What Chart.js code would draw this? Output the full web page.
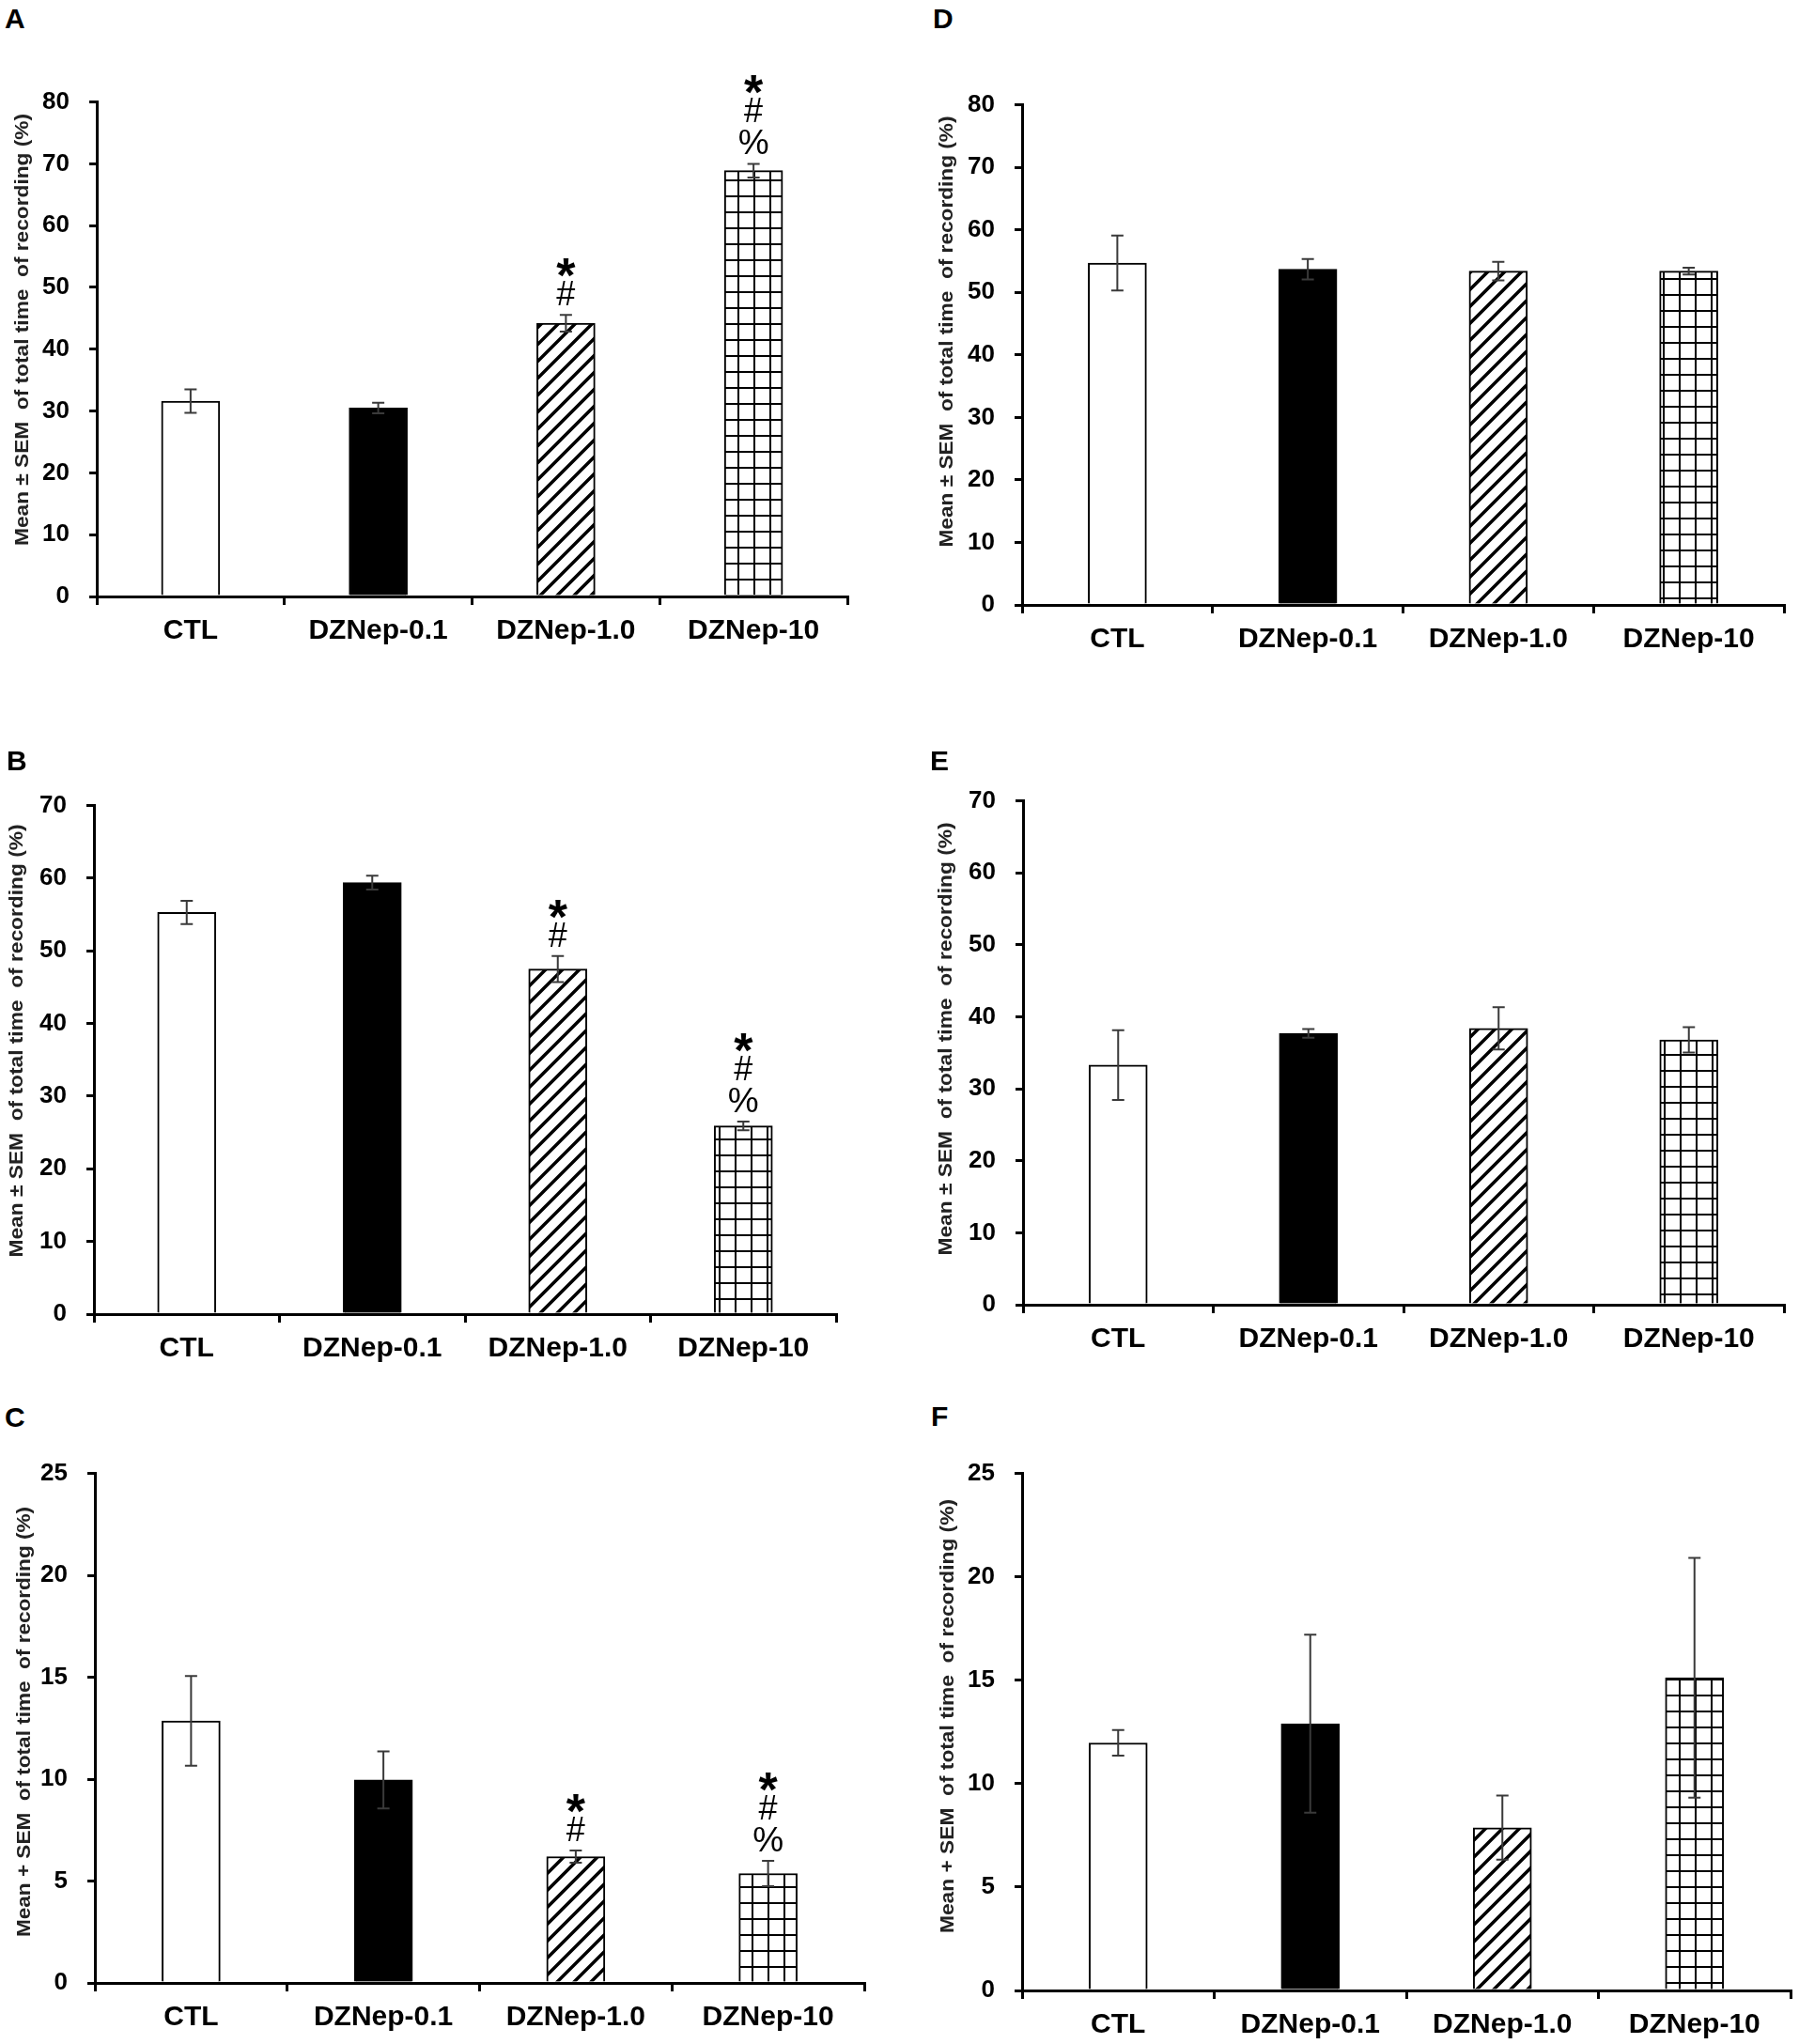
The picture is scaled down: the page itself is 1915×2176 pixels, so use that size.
<!DOCTYPE html>
<html>
<head>
<meta charset="utf-8">
<script src="https://cdn.jsdelivr.net/npm/chart.js@4.4.1/dist/chart.umd.min.js"></script>
<style>
  body { margin: 0; background: #fff; width: 1915px; height: 2176px; position: relative; overflow: hidden; }
  canvas { position: absolute; }
  .letter { position: absolute; font: bold 30px "Liberation Sans", Arial, sans-serif; line-height: 1; color: #000; }
</style>
</head>
<body>
<script>
// categories shared by all six panels
const groups = ['CTL', 'DZNep-0.1', 'DZNep-1.0', 'DZNep-10'];

// A
const meanA = [31.6, 30.5, 44.2, 68.9];
const semA = [1.9, 0.85, 1.35, 1.1];
const marksA = ['', '', '*#', '*#%'];
const ticksA = [0, 10, 20, 30, 40, 50, 60, 70, 80];

// B
const meanB = [55.3, 59.4, 47.5, 25.9];
const semB = [1.6, 0.95, 1.8, 0.6];
const marksB = ['', '', '*#', '*#%'];
const ticksB = [0, 10, 20, 30, 40, 50, 60, 70];

// C
const meanC = [12.86, 9.96, 6.2, 5.37];
const semC = [2.2, 1.4, 0.3, 0.62];
const marksC = ['', '', '*#', '*#%'];
const ticksC = [0, 5, 10, 15, 20, 25];

// D
const meanD = [54.7, 53.7, 53.4, 53.4];
const semD = [4.4, 1.65, 1.5, 0.55];
const marksD = ['', '', '', ''];
const ticksD = [0, 10, 20, 30, 40, 50, 60, 70, 80];

// E
const meanE = [33.3, 37.7, 38.4, 36.8];
const semE = [4.85, 0.6, 2.95, 1.75];
const marksE = ['', '', '', ''];
const ticksE = [0, 10, 20, 30, 40, 50, 60, 70];

// F
const meanF = [11.97, 12.9, 7.87, 15.12];
const semF = [0.62, 4.3, 1.55, 5.8];
const marksF = ['', '', '', ''];
const ticksF = [0, 5, 10, 15, 20, 25];

const titlePM = 'Mean \u00b1 SEM  of total time  of recording (%)';
const titlePlus = 'Mean + SEM  of total time  of recording (%)';

// where each plot sits on the page (axis corner, top of y axis, end of x axis)
const panels = [
  { id: 'A', mean: meanA, sem: semA, marks: marksA, ticks: ticksA, title: titlePM,
    axisX: 103, top: 102, bottom: 635, right: 902, titleX: 24, titleY: 351, titleLen: 460, lx: 5, ly: 5 },
  { id: 'B', mean: meanB, sem: semB, marks: marksB, ticks: ticksB, title: titlePM,
    axisX: 100, top: 851, bottom: 1399, right: 890, titleX: 18, titleY: 1108, titleLen: 461, lx: 7, ly: 795 },
  { id: 'C', mean: meanC, sem: semC, marks: marksC, ticks: ticksC, title: titlePlus,
    axisX: 101, top: 1562, bottom: 2111, right: 920, titleX: 26, titleY: 1833, titleLen: 458, lx: 5, ly: 1494 },
  { id: 'D', mean: meanD, sem: semD, marks: marksD, ticks: ticksD, title: titlePM,
    axisX: 1088, top: 105, bottom: 644, right: 1899, titleX: 1008, titleY: 353, titleLen: 459, lx: 993, ly: 5 },
  { id: 'E', mean: meanE, sem: semE, marks: marksE, ticks: ticksE, title: titlePM,
    axisX: 1089, top: 846, bottom: 1389, right: 1899, titleX: 1007, titleY: 1106, titleLen: 461, lx: 990, ly: 795 },
  { id: 'F', mean: meanF, sem: semF, marks: marksF, ticks: ticksF, title: titlePlus,
    axisX: 1088, top: 1562, bottom: 2119, right: 1906, titleX: 1009, titleY: 1827, titleLen: 462, lx: 991, ly: 1493 }
];

const FONT = '"Liberation Sans", Arial, sans-serif';

// hatch fills
function stripePattern() {
  const s = 18;
  const c = document.createElement('canvas');
  c.width = s; c.height = s;
  const g = c.getContext('2d');
  g.fillStyle = '#fff';
  g.fillRect(0, 0, s, s);
  g.strokeStyle = '#000';
  g.lineWidth = 3.5;
  g.beginPath();
  g.moveTo(-2, s + 2); g.lineTo(s + 2, -2);
  g.moveTo(-3, 3); g.lineTo(3, -3);
  g.moveTo(s - 3, s + 3); g.lineTo(s + 3, s - 3);
  g.stroke();
  return g.createPattern(c, 'repeat');
}

function gridPattern() {
  const s = 17;
  const c = document.createElement('canvas');
  c.width = s; c.height = s;
  const g = c.getContext('2d');
  g.fillStyle = '#fff';
  g.fillRect(0, 0, s, s);
  g.fillStyle = '#000';
  g.fillRect(0, 0, s, 2);
  g.fillRect(0, 0, 2, s);
  return g.createPattern(c, 'repeat');
}

const fills = ['#ffffff', '#000000', stripePattern(), gridPattern()];

// error bars, significance marks and the rotated y title
const extras = {
  id: 'extras',
  afterDatasetsDraw(chart, args, opts) {
    const p = opts.panel;
    const ctx = chart.ctx;
    const y = chart.scales.y;
    const meta = chart.getDatasetMeta(0);
    ctx.save();
    for (let i = 0; i < p.mean.length; i++) {
      const x = meta.data[i].x;
      const yt = y.getPixelForValue(p.mean[i] + p.sem[i]);
      const yb = y.getPixelForValue(p.mean[i] - p.sem[i]);
      ctx.strokeStyle = '#3a3a3a';
      ctx.lineWidth = 2;
      ctx.beginPath();
      ctx.moveTo(x, yt); ctx.lineTo(x, yb);
      ctx.moveTo(x - 6.5, yt); ctx.lineTo(x + 6.5, yt);
      ctx.moveTo(x - 6.5, yb); ctx.lineTo(x + 6.5, yb);
      ctx.stroke();

      // stack the marks upward from the top of the error bar
      const syms = p.marks[i].split('').reverse();
      let base = yt - 10;
      ctx.fillStyle = '#000';
      ctx.textAlign = 'center';
      ctx.textBaseline = 'alphabetic';
      for (const s of syms) {
        if (s === '*') ctx.font = 'bold 52px ' + FONT;
        else if (s === '#') ctx.font = '36px ' + FONT;
        else ctx.font = '37px ' + FONT;
        ctx.fillText(s, x, base);
        base -= (s === '%') ? 34 : 14;
      }
    }
    ctx.restore();

    const c = opts.canvasPos;
    ctx.save();
    ctx.translate(p.titleX - c.left, p.titleY - c.top);
    ctx.rotate(-Math.PI / 2);
    ctx.font = 'bold 21px ' + FONT;
    const w = ctx.measureText(p.title).width;
    ctx.scale(p.titleLen / w, 1);
    ctx.fillStyle = '#222';
    ctx.textAlign = 'center';
    ctx.textBaseline = 'middle';
    ctx.fillText(p.title, 0, 0);
    ctx.restore();
  }
};

panels.forEach(p => {
  const padTop = 30, padRight = 12, xAxisH = 75, yAxisW = 100;
  const left = p.axisX - yAxisW;
  const top = p.top - padTop;
  const width = p.right - left + padRight;
  const height = p.bottom - top + xAxisH;

  const canv = document.createElement('canvas');
  canv.width = width; canv.height = height;
  canv.style.left = left + 'px';
  canv.style.top = top + 'px';
  canv.style.width = width + 'px';
  canv.style.height = height + 'px';
  document.body.appendChild(canv);

  const letter = document.createElement('div');
  letter.className = 'letter';
  letter.textContent = p.id;
  letter.style.left = p.lx + 'px';
  letter.style.top = p.ly + 'px';
  document.body.appendChild(letter);

  new Chart(canv.getContext('2d'), {
    type: 'bar',
    data: {
      labels: groups,
      datasets: [{
        data: p.mean,
        backgroundColor: fills,
        borderColor: '#000',
        borderWidth: 2,
        barThickness: 62
      }]
    },
    options: {
      responsive: false,
      animation: false,
      devicePixelRatio: 1,
      layout: { padding: { top: padTop, right: padRight, left: 0, bottom: 0 } },
      plugins: {
        legend: { display: false },
        tooltip: { enabled: false },
        extras: { panel: p, canvasPos: { left: left, top: top } }
      },
      scales: {
        x: {
          afterFit: s => { s.height = xAxisH; },
          grid: { drawOnChartArea: false, drawTicks: true, tickLength: 9, color: '#000', lineWidth: 3 },
          border: { display: true, color: '#000', width: 3 },
          ticks: { color: '#000', padding: 10, font: { family: FONT, size: 30, weight: 'bold' } }
        },
        y: {
          min: 0,
          max: p.ticks[p.ticks.length - 1],
          afterFit: s => { s.width = yAxisW; },
          grid: { drawOnChartArea: false, drawTicks: true, tickLength: 8, color: '#000', lineWidth: 3 },
          border: { display: true, color: '#000', width: 3 },
          ticks: { color: '#000', padding: 21, stepSize: p.ticks[1] - p.ticks[0],
                   font: { family: FONT, size: 26, weight: 'bold' } }
        }
      }
    },
    plugins: [extras]
  });
});
</script>
</body>
</html>
